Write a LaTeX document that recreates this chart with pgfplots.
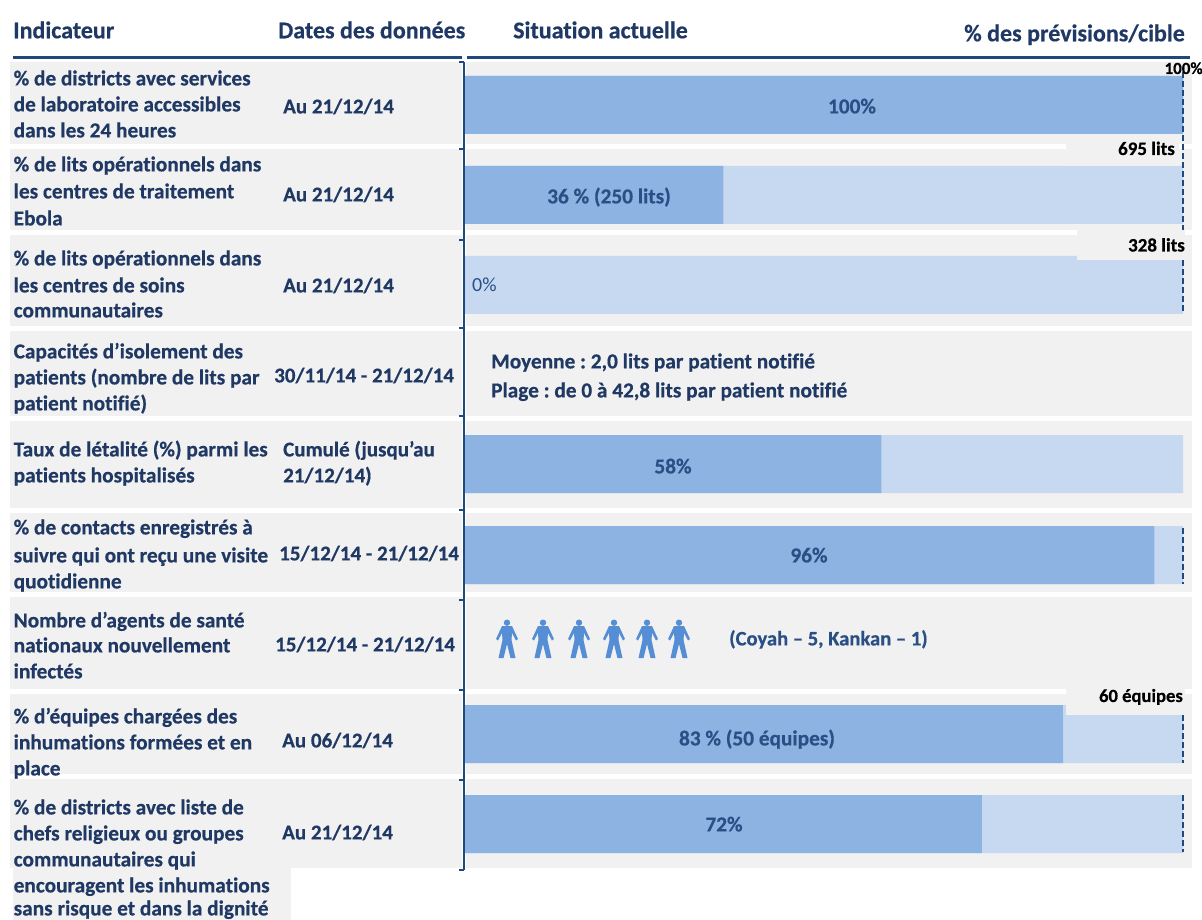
\documentclass[border=0pt]{standalone}
\usepackage{fontspec}
\setmainfont[Ligatures=NoCommon,BoldFeatures={FakeBold=0.5}]{Carlito}
\usepackage{pgfplots}
\pgfplotsset{compat=1.18}
\definecolor{navy}{HTML}{1F3864}
\definecolor{rule}{HTML}{1F497D}
\definecolor{valtxt}{HTML}{2A4F85}
\definecolor{bardark}{HTML}{8DB3E2}
\definecolor{barlight}{HTML}{C6D9F1}
\definecolor{band}{HTML}{F1F1F1}
\definecolor{person}{HTML}{558ED5}
\pgfdeclareplotmark{person}{%
  \pgfpathcircle{\pgfpoint{0pt}{17.3pt}}{3.2pt}\pgfusepathqfill
  \pgfpathmoveto{\pgfpoint{-5pt}{14pt}}
  \pgflineto{\pgfpoint{5pt}{14pt}}
  \pgflineto{\pgfpoint{11pt}{1pt}}
  \pgflineto{\pgfpoint{9pt}{-0.5pt}}
  \pgflineto{\pgfpoint{5pt}{7pt}}
  \pgflineto{\pgfpoint{4.5pt}{0pt}}
  \pgflineto{\pgfpoint{8.5pt}{-18pt}}
  \pgflineto{\pgfpoint{3.5pt}{-18pt}}
  \pgflineto{\pgfpoint{0pt}{-4pt}}
  \pgflineto{\pgfpoint{-3.5pt}{-18pt}}
  \pgflineto{\pgfpoint{-8.5pt}{-18pt}}
  \pgflineto{\pgfpoint{-4.5pt}{0pt}}
  \pgflineto{\pgfpoint{-5pt}{7pt}}
  \pgflineto{\pgfpoint{-9pt}{-0.5pt}}
  \pgflineto{\pgfpoint{-11pt}{1pt}}
  \pgfpathclose\pgfusepathqfill}
\newcommand{\bodyf}{\fontsize{21.3}{25}\selectfont\bfseries\frenchspacing}
\newcommand{\datef}{\fontsize{21}{25}\selectfont\bfseries\frenchspacing}
\newcommand{\headf}{\fontsize{24}{28}\selectfont\bfseries}
\newcommand{\TL}[3]{\node[anchor=base west,inner sep=0pt,text=navy,font=\bodyf] at (#1,#2) {#3};}
\newcommand{\TD}[3]{\node[anchor=base west,inner sep=0pt,text=navy,font=\datef] at (#1,#2) {#3};}
\begin{document}
\begin{tikzpicture}
\path[use as bounding box] (0pt,0pt) rectangle (1202pt,920pt);
\begin{scope}[x=1pt,y=-1pt,yshift=920pt]
\foreach \a/\b in {62/144,149/230,235/326,331/416,421/508,513/592,597/689,694/774,779/868}{
  \fill[band] (10,\a) rectangle (462,\b);
  \fill[band] (466,\a) rectangle (1192,\b);
}
\fill[band] (13,868) rectangle (291,920);
\end{scope}
\begin{axis}[at={(465pt,0pt)},anchor=south west,scale only axis,width=718pt,height=920pt,
  xmin=0,xmax=100,ymin=0,ymax=920,y dir=reverse,axis lines=none,clip=false]
\addplot[xbar,bar shift=0pt,bar width=58pt,draw=none,fill=barlight] coordinates
  {(100,105) (100,195) (100,285) (100,464) (100,555) (100,734) (100,824)};
\addplot[xbar,bar shift=0pt,bar width=58pt,draw=none,fill=bardark] coordinates
  {(100,105) (36,195) (0,285) (58,464) (96,555) (83.3,734) (72,824)};
\addplot[rule,line width=2pt,dash pattern=on 6pt off 3pt,no marks] coordinates {(100,72) (100,232)};
\addplot[rule,line width=2pt,dash pattern=on 6pt off 3pt,no marks] coordinates {(100,260) (100,313)};
\addplot[rule,line width=2pt,dash pattern=on 6pt off 3pt,no marks] coordinates {(100,528) (100,584)};
\addplot[rule,line width=2pt,dash pattern=on 6pt off 3pt,no marks] coordinates {(100,715) (100,763)};
\addplot[rule,line width=2pt,dash pattern=on 6pt off 3pt,no marks] coordinates {(100,795) (100,852)};
\addplot[only marks,mark=person,color=person] coordinates
  {(5.85,640) (10.86,640) (15.88,640) (20.75,640) (25.35,640) (29.81,640)};
\end{axis}
\begin{scope}[x=1pt,y=-1pt,yshift=920pt]
% patches behind target labels
\fill[band] (1066,143) rectangle (1179,166);
\fill[band] (1077,230) rectangle (1184.5,260);
\fill[band] (1066,689) rectangle (1184.5,715);
\fill[barlight] (1063,705) rectangle (1066,715);
% rules
\draw[rule,line width=3pt] (13,58) -- (462,58);
\draw[rule,line width=3pt] (467,58) -- (1190,58);
\draw[rule,line width=2pt] (464,62) -- (464,870);
\foreach \y in {62,149,240,328,416,510,600,690,780,870}{\draw[rule,line width=1.5pt] (459,\y) -- (464,\y);}
% headers
\begin{scope}[yshift=-1.3pt]
\node[anchor=base west,inner sep=0pt,text=navy,font=\headf] at (13,37) {Indicateur};
\node[anchor=base west,inner sep=0pt,text=navy,font=\headf] at (278,37) {Dates des données};
\node[anchor=base west,inner sep=0pt,text=navy,font=\headf] at (513,37) {Situation actuelle};
\node[anchor=base east,inner sep=0pt,text=navy,font=\headf] at (1185,40) {\% des prévisions/cible};
\end{scope}
\begin{scope}[yshift=-0.4pt]
% indicator names
\TL{13.5}{85}{\% de districts avec services}
\TL{13.5}{111}{de laboratoire accessibles}
\TL{13.5}{137}{dans les 24 heures}
\TL{13.5}{171}{\% de lits opérationnels dans}
\TL{13.5}{198}{les centres de traitement}
\TL{13.5}{225}{Ebola}
\TL{13.5}{265}{\% de lits opérationnels dans}
\TL{13.5}{292}{les centres de soins}
\TL{13.5}{317}{communautaires}
\TL{13.5}{358}{Capacités d’isolement des}
\TL{13.5}{384}{patients (nombre de lits par}
\TL{13.5}{410}{patient notifié)}
\TL{13.5}{456}{Taux de létalité (\%) parmi les}
\TL{13.5}{482}{patients hospitalisés}
\TL{13.5}{534}{\% de contacts enregistrés à}
\TL{13.5}{562}{suivre qui ont reçu une visite}
\TL{13.5}{588}{quotidienne}
\TL{13.5}{627}{Nombre d’agents de santé}
\TL{13.5}{652}{nationaux nouvellement}
\TL{13.5}{678}{infectés}
\TL{13.5}{723}{\% d’équipes chargées des}
\TL{13.5}{749}{inhumations formées et en}
\TL{13.5}{775}{place}
\TL{13.5}{814}{\% de districts avec liste de}
\TL{13.5}{840}{chefs religieux ou groupes}
\TL{13.5}{866}{communautaires qui}
\TL{13.5}{892}{encouragent les inhumations}
\TL{13.5}{915}{sans risque et dans la dignité}
% dates
\TD{283}{113}{Au 21/12/14}
\TD{283}{201}{Au 21/12/14}
\TD{283}{292}{Au 21/12/14}
\TD{274}{382}{30/11/14 - 21/12/14}
\TD{283}{456}{Cumulé (jusqu’au}
\TD{283}{482}{21/12/14)}
\TD{279}{560}{15/12/14 - 21/12/14}
\TD{275}{651}{15/12/14 - 21/12/14}
\TD{282}{747}{Au 06/12/14}
\TD{282}{839}{Au 21/12/14}
% values
\foreach \x/\y/\t in {852/113/100\%,609/203/36 \% (250 lits),673/473/58\%,809/562/96\%,757/745/83 \% (50 équipes),724/831/72\%}{
  \node[anchor=base,inner sep=0pt,text=valtxt,font=\bodyf] at (\x,\y) {\t};}
\node[anchor=base west,inner sep=0pt,text=valtxt,font=\fontsize{20}{24}\selectfont] at (472,291) {0\%};
\TL{491}{368}{Moyenne : 2,0 lits par patient notifié}
\TL{491}{397}{Plage : de 0 à 42,8 lits par patient notifié}
\node[anchor=base west,inner sep=0pt,text=valtxt,font=\fontsize{20.6}{24}\selectfont\bfseries] at (729,645) {(Coyah – 5, Kankan – 1)};
\end{scope}
% target labels
\node[anchor=base east,inner sep=0pt,font=\fontsize{17}{18}\selectfont\bfseries] at (1203,74) {100\%};
\node[anchor=base east,inner sep=0pt,font=\fontsize{19}{22}\selectfont\bfseries] at (1175,155) {695 lits};
\node[anchor=base east,inner sep=0pt,font=\fontsize{19}{22}\selectfont\bfseries] at (1185,251.5) {328 lits};
\node[anchor=base east,inner sep=0pt,font=\fontsize{18.6}{22}\selectfont\bfseries] at (1183,702) {60 équipes};
\end{scope}
\end{tikzpicture}
\end{document}
